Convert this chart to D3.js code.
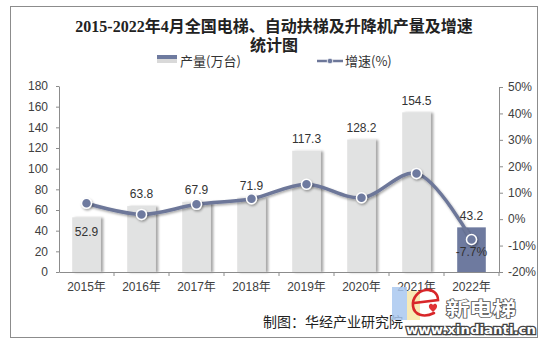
<!DOCTYPE html>
<html><head><meta charset="utf-8">
<script src="https://cdn.jsdelivr.net/npm/d3@7"></script>
<style>
html,body{margin:0;padding:0;background:#fff;}
svg{display:block;}
</style></head>
<body>
<svg id="chart" width="548" height="343"></svg>
<script>
const categories = ["2015年","2016年","2017年","2018年","2019年","2020年","2021年","2022年"];
const output = [52.9, 63.8, 67.9, 71.9, 117.3, 128.2, 154.5, 43.2];
const growth = [6.0, 1.8, 5.6, 7.7, 13.2, 8.1, 17.3, -7.7];
const leftTicks = [0, 20, 40, 60, 80, 100, 120, 140, 160, 180];
const rightTicks = [-20, -10, 0, 10, 20, 30, 40, 50];
const titleLines = ["2015-2022年4月全国电梯、自动扶梯及升降机产量及增速", "统计图"];
const legendLabels = ["产量(万台)", "增速(%)"];
const source = "制图：华经产业研究院";

const svg = d3.select("#chart");
const sansFont = "'Liberation Sans', Arial, 'Noto Sans CJK SC', sans-serif";
const cjkFont = "'Noto Sans CJK SC', sans-serif";
const textCol = "#404040";
const barCol = "#e1e2e2";
const darkCol = "#6e7a9f";
const lineCol = "#6d7799";

const defs = svg.append("defs");
const sh = defs.append("filter").attr("id","shadow").attr("x","-20%").attr("y","-20%").attr("width","150%").attr("height","140%");
sh.append("feDropShadow").attr("dx",2.5).attr("dy",0.5).attr("stdDeviation",1).attr("flood-color","#000").attr("flood-opacity",0.35);
const sh2 = defs.append("filter").attr("id","pshadow").attr("x","-50%").attr("y","-50%").attr("width","200%").attr("height","200%");
sh2.append("feDropShadow").attr("dx",1).attr("dy",1.5).attr("stdDeviation",1).attr("flood-color","#000").attr("flood-opacity",0.35);

// border
svg.append("rect").attr("x",10.5).attr("y",6.5).attr("width",527).attr("height",331)
  .attr("fill","#fff").attr("stroke","#8c8c8c").attr("stroke-width",1);

// title
svg.append("text").attr("x",274).attr("y",32).attr("text-anchor","middle")
  .attr("font-family","'Liberation Serif', 'Noto Sans CJK SC', serif").attr("font-weight","bold")
  .attr("font-size",16).attr("fill","#222").text(titleLines[0]);
svg.append("text").attr("x",274).attr("y",51).attr("text-anchor","middle")
  .attr("font-family","'Liberation Serif', 'Noto Sans CJK SC', serif").attr("font-weight","bold")
  .attr("font-size",16).attr("fill","#222").text(titleLines[1]);

// legend
const lg = svg.append("g");
lg.append("rect").attr("x",157).attr("y",55).attr("width",20).attr("height",4).attr("fill",darkCol);
lg.append("rect").attr("x",157).attr("y",59).attr("width",20).attr("height",4).attr("fill","#d9d9d9");
lg.append("text").attr("x",180).attr("y",65.5).attr("font-family",cjkFont).attr("font-size",13).attr("fill","#333").text(legendLabels[0]);
lg.append("line").attr("x1",317).attr("x2",343).attr("y1",61).attr("y2",61).attr("stroke",lineCol).attr("stroke-width",2.5);
lg.append("circle").attr("cx",330).attr("cy",61).attr("r",2.8).attr("fill",darkCol).attr("stroke","#fff").attr("stroke-width",0.8);
lg.append("text").attr("x",345).attr("y",65.5).attr("font-family",cjkFont).attr("font-size",13).attr("fill","#333").text(legendLabels[1]);

// scales
const x = d3.scaleBand().domain(categories).range([59, 499]).padding(0);
const y = d3.scaleLinear().domain([0, 180]).range([272, 86]);
const y2 = d3.scaleLinear().domain([-20, 50]).range([272, 87]);
const bw = x.bandwidth() * 0.52;
const cx = c => x(c) + x.bandwidth()/2;

// bars
const last = categories.length - 1;
svg.append("g").selectAll("rect").data(categories).join("rect")
  .attr("x", c => cx(c) - bw/2)
  .attr("y", (c,i) => y(output[i]))
  .attr("width", bw)
  .attr("height", (c,i) => y(0) - y(output[i]))
  .attr("fill", (c,i) => i === last ? darkCol : barCol)
  .attr("filter", (c,i) => i === last ? null : "url(#shadow)");

// axes
const axisStyle = g => {
  g.selectAll("path.domain").attr("stroke","#8c8c8c");
  g.selectAll(".tick line").attr("stroke","#8c8c8c");
  g.selectAll("text").attr("font-family",sansFont).attr("font-size",12).attr("fill",textCol);
};
svg.append("g").attr("transform","translate(59,0)")
  .call(d3.axisLeft(y).tickValues(leftTicks).tickSize(3).tickSizeOuter(0).tickPadding(8))
  .call(axisStyle);
svg.append("g").attr("transform","translate(499,0)")
  .call(d3.axisRight(y2).tickValues(rightTicks).tickSize(4).tickSizeOuter(0).tickPadding(5).tickFormat(d => d + "%"))
  .call(axisStyle);
const xg = svg.append("g").attr("transform","translate(0,272)")
  .call(d3.axisBottom(x).tickSize(0).tickPadding(10).tickSizeOuter(0))
  .call(axisStyle);
xg.selectAll("text").attr("font-family",sansFont + ", 'Noto Sans CJK SC'");
// boundary ticks
xg.selectAll("line.bt").data(categories.slice(1).concat(["__end"])).join("line").attr("class","bt")
  .attr("x1", c => c === "__end" ? 499 : x(c)).attr("x2", c => c === "__end" ? 499 : x(c))
  .attr("y1",0).attr("y2",4).attr("stroke","#8c8c8c");

// line
const line = d3.line().x((d,i) => cx(categories[i])).y(d => y2(d)).curve(d3.curveCatmullRom.alpha(0.5));
svg.append("path").datum(growth).attr("d", line).attr("fill","none")
  .attr("stroke",lineCol).attr("stroke-width",3.5).attr("stroke-linecap","round").attr("filter","url(#pshadow)");
svg.append("g").selectAll("circle").data(growth).join("circle")
  .attr("cx", (d,i) => cx(categories[i])).attr("cy", d => y2(d)).attr("r",5)
  .attr("fill",darkCol).attr("stroke","#fff").attr("stroke-width",1.5).attr("filter","url(#pshadow)");

// bar labels
svg.append("g").selectAll("text").data(output).join("text")
  .attr("x", (d,i) => cx(categories[i]))
  .attr("y", (d,i) => i === 0 ? y(d) + 14 : y(d) - 12)
  .attr("dy","0.35em").attr("text-anchor","middle")
  .attr("font-family",sansFont).attr("font-size",12).attr("fill","#333")
  .text(d => d.toFixed(1));
// growth label for last point
svg.append("text").attr("x", cx(categories[last])).attr("y", y2(growth[last]) + 12)
  .attr("dy","0.35em").attr("text-anchor","middle")
  .attr("font-family",sansFont).attr("font-size",12).attr("fill","#333")
  .text(growth[last].toFixed(1) + "%");

// source
svg.append("text").attr("x",263).attr("y",327).attr("font-family",cjkFont).attr("font-size",14).attr("fill","#222").text(source);

// watermark (approximate)
const wm = svg.append("g");
wm.append("rect").attr("x",392).attr("y",287).attr("width",15).attr("height",33).attr("fill","#a9c8f0").attr("opacity",0.85);
wm.append("rect").attr("x",407).attr("y",291).attr("width",13).attr("height",29).attr("fill","#f7e6a8").attr("opacity",0.85);
// red "e" logo as a path
wm.append("path")
  .attr("d","M414,303 L438,300 C438,293 432,289 426,290 C418,291 412,298 413,306 C414,315 424,318 434,313")
  .attr("fill","none").attr("stroke","#d8262a").attr("stroke-width",2.6).attr("stroke-linecap","round");
wm.append("path").attr("d","M430,309 c-3,-4 1,-7 3,-4 c2,-3 6,0 3,4 l-3,3 z").attr("fill","#e03236");
wm.append("text").attr("x",446).attr("y",316).attr("textLength",70).attr("lengthAdjust","spacingAndGlyphs")
  .attr("font-family",cjkFont).attr("font-weight","bold")
  .attr("font-size",19).attr("fill","#fff").attr("stroke","#555").attr("stroke-width",1.5).attr("paint-order","stroke").text("新电梯");
wm.append("text").attr("x",406).attr("y",333.5).attr("textLength",130).attr("lengthAdjust","spacingAndGlyphs")
  .attr("font-family","'DejaVu Sans', sans-serif").attr("font-weight","bold")
  .attr("font-size",12).attr("fill","#fff").attr("stroke","#444").attr("stroke-width",2.4).attr("paint-order","stroke").text("www.xindianti.cn");
</script>
</body></html>
